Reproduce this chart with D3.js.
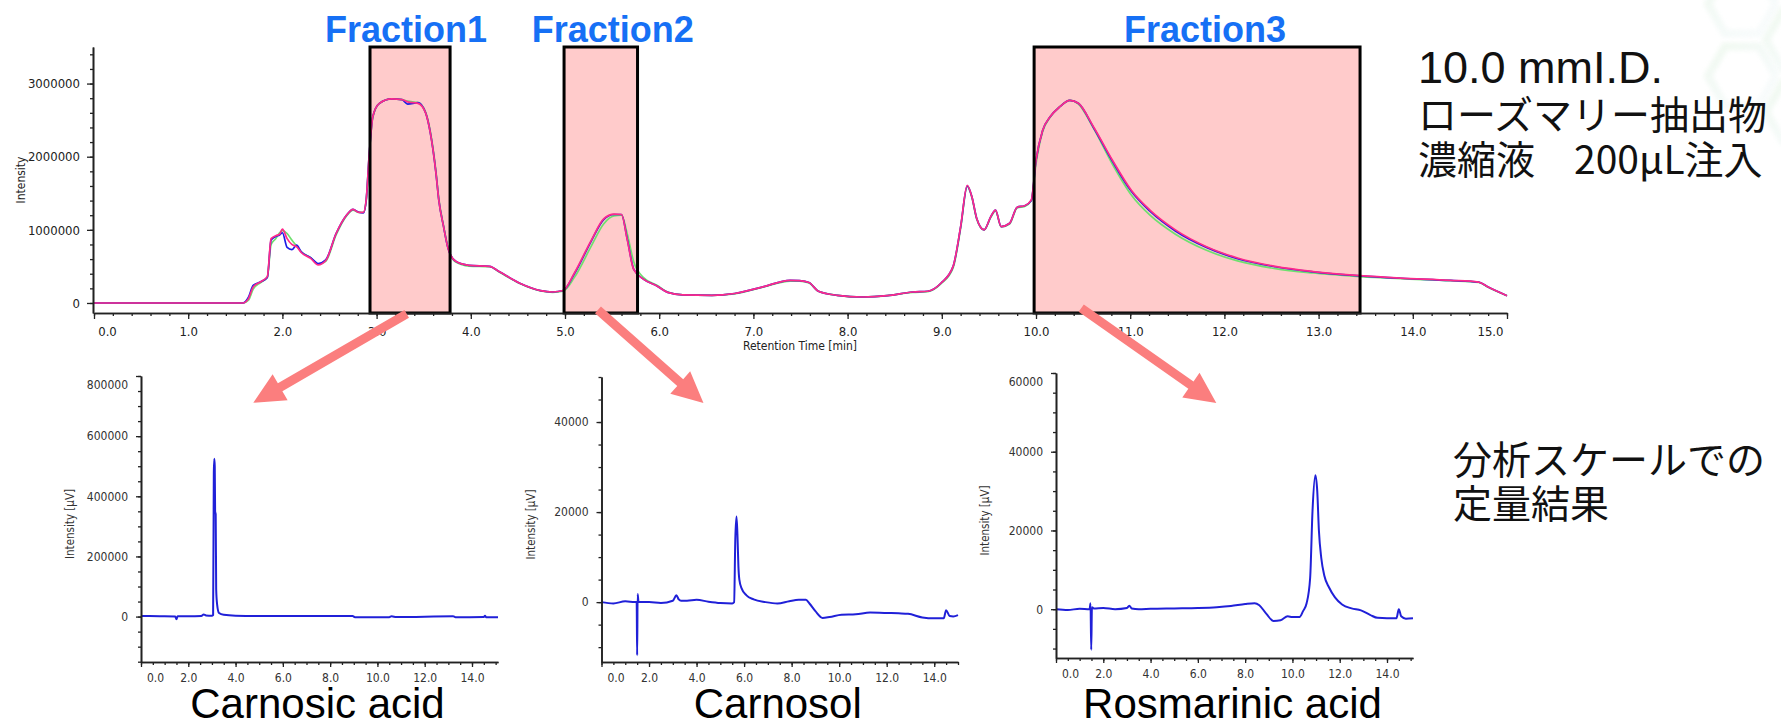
<!DOCTYPE html>
<html>
<head>
<meta charset="utf-8">
<script src="https://cdn.jsdelivr.net/npm/d3@7"></script>
<style>
  body { margin: 0; background: #fff; }
  svg { display: block; }
</style>
</head>
<body>
<div class="content"></div>
<script>
const W = 1781;
const H = 723;

// preparative run: three overlaid injections (time in min, intensity)
const mainTime = [0, 1.58, 1.64, 1.69, 1.77, 1.84, 1.88, 1.93, 1.97, 2.00, 2.05, 2.10, 2.15, 2.20, 2.30, 2.38, 2.46, 2.57, 2.68, 2.75, 2.81, 2.86, 2.89, 2.92, 2.96, 3.03, 3.16, 3.27, 3.33, 3.44, 3.52, 3.57, 3.63, 3.66, 3.71, 3.76, 3.84, 3.98, 4.20, 4.30, 4.52, 4.74, 4.87, 4.98, 5.10, 5.28, 5.41, 5.52, 5.60, 5.66, 5.73, 5.84, 5.98, 6.09, 6.25, 6.56, 6.80, 7.10, 7.39, 7.49, 7.59, 7.69, 7.89, 8.16, 8.42, 8.69, 8.85, 8.99, 9.12, 9.20, 9.27, 9.32, 9.37, 9.45, 9.52, 9.57, 9.63, 9.72, 9.80, 9.88, 9.95, 10.00, 10.07, 10.15, 10.25, 10.36, 10.45, 10.61, 10.81, 11.01, 11.21, 11.48, 11.81, 12.14, 12.54, 12.94, 13.44, 13.87, 14.40, 14.70, 14.80, 15.00];
const mainPink = [0, 0, 60000, 220000, 290000, 360000, 880000, 920000, 940000, 1010000, 880000, 800000, 770000, 690000, 610000, 520000, 580000, 950000, 1200000, 1280000, 1240000, 1240000, 1420000, 2000000, 2550000, 2730000, 2790000, 2780000, 2750000, 2730000, 2600000, 2330000, 1780000, 1410000, 1050000, 740000, 570000, 515000, 500000, 430000, 270000, 170000, 150000, 170000, 410000, 860000, 1150000, 1215000, 1210000, 870000, 455000, 320000, 230000, 145000, 110000, 105000, 130000, 220000, 310000, 305000, 280000, 160000, 105000, 82000, 100000, 150000, 160000, 270000, 500000, 1045000, 1610000, 1450000, 1160000, 1000000, 1180000, 1270000, 1045000, 1090000, 1310000, 1330000, 1410000, 1950000, 2360000, 2545000, 2680000, 2770000, 2730000, 2410000, 1955000, 1545000, 1270000, 1000000, 770000, 615000, 500000, 430000, 373000, 340000, 310000, 286000, 218000, 100000];
const mainBlue = [0, 0, 80000, 240000, 290000, 350000, 860000, 910000, 930000, 960000, 760000, 730000, 790000, 700000, 620000, 540000, 590000, 950000, 1200000, 1280000, 1240000, 1230000, 1410000, 2000000, 2550000, 2730000, 2790000, 2780000, 2720000, 2740000, 2600000, 2330000, 1780000, 1410000, 1050000, 740000, 570000, 515000, 500000, 430000, 270000, 170000, 150000, 170000, 400000, 850000, 1140000, 1210000, 1210000, 880000, 460000, 320000, 230000, 145000, 110000, 105000, 130000, 220000, 310000, 305000, 280000, 160000, 105000, 82000, 100000, 150000, 160000, 270000, 500000, 1040000, 1600000, 1450000, 1160000, 1000000, 1180000, 1270000, 1045000, 1090000, 1310000, 1330000, 1400000, 1950000, 2360000, 2545000, 2680000, 2770000, 2730000, 2400000, 1940000, 1530000, 1255000, 985000, 760000, 605000, 495000, 425000, 370000, 338000, 308000, 285000, 218000, 100000];
const mainGreen = [0, 0, 40000, 190000, 280000, 350000, 800000, 880000, 960000, 990000, 950000, 860000, 780000, 700000, 620000, 530000, 570000, 930000, 1190000, 1270000, 1240000, 1240000, 1400000, 1980000, 2540000, 2730000, 2790000, 2780000, 2760000, 2740000, 2610000, 2350000, 1800000, 1430000, 1060000, 750000, 560000, 505000, 495000, 425000, 265000, 165000, 145000, 160000, 350000, 780000, 1080000, 1190000, 1200000, 950000, 560000, 340000, 240000, 150000, 110000, 105000, 125000, 215000, 300000, 300000, 275000, 160000, 105000, 80000, 100000, 145000, 155000, 260000, 480000, 1020000, 1590000, 1440000, 1150000, 1000000, 1170000, 1260000, 1040000, 1080000, 1300000, 1320000, 1400000, 1900000, 2340000, 2540000, 2680000, 2770000, 2720000, 2390000, 1900000, 1480000, 1200000, 940000, 720000, 575000, 470000, 410000, 360000, 332000, 305000, 282000, 215000, 100000];

const mainXTicks = [0, 1, 2, 3, 4, 5, 6, 7, 8, 9, 10, 11, 12, 13, 14, 15];
const mainYTicks = [0, 1000000, 2000000, 3000000];

const fractionNames = ['Fraction1', 'Fraction2', 'Fraction3'];
const fractionStart = [2.93, 4.99, 9.98];
const fractionEnd = [3.78, 5.77, 13.44];

// analytical-scale chromatograms of each fraction
const carnosicTime = [0, 0.8, 1.45, 1.5, 1.55, 2.0, 2.55, 2.65, 2.75, 3.0, 3.05, 3.08, 3.1, 3.12, 3.135, 3.16, 3.18, 3.22, 3.3, 3.5, 4.0, 5.0, 7.0, 8.95, 9.05, 10.5, 10.6, 10.8, 13.2, 13.3, 14.5, 14.55, 14.6, 15.1];
const carnosicValue = [2000, 1000, 0, -9000, 1000, 1000, 2000, 7000, 4000, 3000, 5000, 480000, 525000, 500000, 350000, 340000, 90000, 40000, 12000, 6000, 3000, 2000, 2000, 2000, -2000, -2000, 1000, -1500, 1000, -2000, -1000, 2500, -2000, -2000];
const carnosicYTicks = [0, 200000, 400000, 600000, 800000];

const carnosolTime = [0, 0.5, 1.0, 1.4, 1.48, 1.5, 1.52, 1.56, 2.0, 2.5, 3.0, 3.15, 3.25, 3.35, 3.6, 4.0, 4.5, 5.0, 5.5, 5.58, 5.63, 5.68, 5.72, 5.76, 5.8, 5.9, 6.1, 6.4, 6.9, 7.4, 7.9, 8.3, 8.6, 8.75, 9.0, 9.3, 9.6, 10.1, 10.7, 11.3, 11.9, 12.5, 12.9, 13.5, 14.0, 14.4, 14.5, 14.65, 14.8, 15.0];
const carnosolValue = [0, -300, 200, 0, 0, -11800, 1800, 0, 0, -200, 300, 1500, 600, 300, 300, 500, 100, -200, -300, 0, 14000, 19000, 15000, 8000, 5000, 3000, 1500, 600, 0, -300, 200, 500, 500, -300, -2000, -3500, -3300, -2800, -2700, -2300, -2400, -2500, -2600, -3400, -3600, -3600, -1800, -3100, -3200, -2900];
const carnosolYTicks = [0, 20000, 40000];

const rosmarinicTime = [0, 0.5, 1.0, 1.42, 1.46, 1.49, 1.52, 1.6, 2.0, 2.5, 3.0, 3.1, 3.2, 3.5, 4.0, 5.0, 6.0, 6.8, 7.4, 8.0, 8.4, 8.6, 8.9, 9.2, 9.5, 9.8, 10.0, 10.3, 10.45, 10.6, 10.75, 10.85, 10.97, 11.05, 11.12, 11.22, 11.35, 11.55, 11.8, 12.1, 12.5, 12.9, 13.3, 13.6, 14.0, 14.4, 14.5, 14.6, 14.8, 15.1];
const rosmarinicValue = [0, -200, 100, 0, 1500, -10300, 500, 200, 300, 0, 300, 900, 200, 0, 100, 200, 300, 500, 800, 1300, 1500, 1000, -1200, -3000, -2800, -1800, -2000, -2000, -500, 1500, 8000, 25000, 34000, 30000, 20000, 13000, 8500, 5500, 3000, 1200, 200, -300, -1500, -2200, -2300, -2300, 0, -1800, -2400, -2300];
const rosmarinicYTicks = [0, 20000, 40000, 60000];

const subXTicks = [0, 2, 4, 6, 8, 10, 12, 14];
const subNames = ['Carnosic acid', 'Carnosol', 'Rosmarinic acid'];

const infoLines = ['10.0 mmI.D.', 'ローズマリー抽出物', '濃縮液\u3000200μL注入'];
const resultLines = ['分析スケールでの', '定量結果'];

const tickFont = '"DejaVu Sans Condensed", "DejaVu Sans", sans-serif';
const fmt1 = d3.format('.1f');

function steps(lo, hi, step) {
	const out = [];
	for (let i = 0; lo + i * step <= hi + 1e-9; i++) out.push(+(lo + i * step).toFixed(6));
	return out;
}

const content = d3.select('.content');
const svg = content.append('svg')
	.attr('width', W)
	.attr('height', H);

// faint hexagon decoration, top right
const defs = svg.append('defs');
const grad = defs.append('linearGradient')
	.attr('id', 'hexfade')
	.attr('x1', 0).attr('y1', 0).attr('x2', 1).attr('y2', 1);
grad.append('stop').attr('offset', '0%').attr('stop-color', '#e8f6e6').attr('stop-opacity', 0.9);
grad.append('stop').attr('offset', '100%').attr('stop-color', '#e4f1f5').attr('stop-opacity', 0.3);
defs.append('filter').attr('id', 'soft')
	.append('feGaussianBlur').attr('stdDeviation', 2);
const hex = d3.line()(d3.range(7).map(i => [Math.cos(Math.PI / 3 * i) * 34, Math.sin(Math.PI / 3 * i) * 34]));
[[1742, 4], [1800, 40], [1742, 76], [1800, 112]].forEach(c => {
	svg.append('path')
		.attr('d', hex)
		.attr('transform', `translate(${c[0]},${c[1]})`)
		.attr('fill', 'none')
		.attr('stroke', 'url(#hexfade)')
		.attr('stroke-width', 8)
		.attr('filter', 'url(#soft)')
		.attr('opacity', 0.7);
});

// ---------- main preparative chromatogram ----------
const mainX = d3.scaleLinear().domain([0, 15]).range([94, 1507]);
const mainY = d3.scaleLinear().domain([-137000, 3500000]).range([313, 47]);

const main = svg.append('g').attr('class', 'main');

main.selectAll('rect.fraction')
	.data(fractionNames)
	.enter()
	.append('rect')
	.attr('class', 'fraction')
	.attr('x', (d, i) => mainX(fractionStart[i]))
	.attr('y', mainY(3500000))
	.attr('width', (d, i) => mainX(fractionEnd[i]) - mainX(fractionStart[i]))
	.attr('height', mainY(-137000) - mainY(3500000))
	.attr('fill', '#ffcbcb');

const mainLine = d3.line()
	.x((d, i) => mainX(mainTime[i]))
	.y(d => mainY(d))
	.curve(d3.curveMonotoneX);

[[mainGreen, '#6fe06f'], [mainBlue, '#1a1ae6'], [mainPink, '#ff2a8a']].forEach(s => {
	main.append('path')
		.attr('d', mainLine(s[0]))
		.attr('fill', 'none')
		.attr('stroke', s[1])
		.attr('stroke-width', 1.7);
});

main.selectAll('rect.frame')
	.data(fractionNames)
	.enter()
	.append('rect')
	.attr('class', 'frame')
	.attr('x', (d, i) => mainX(fractionStart[i]))
	.attr('y', mainY(3500000))
	.attr('width', (d, i) => mainX(fractionEnd[i]) - mainX(fractionStart[i]))
	.attr('height', mainY(-137000) - mainY(3500000))
	.attr('fill', 'none')
	.attr('stroke', '#000')
	.attr('stroke-width', 3);

main.selectAll('text.fraction')
	.data(fractionNames)
	.enter()
	.append('text')
	.attr('class', 'fraction')
	.attr('x', (d, i) => (mainX(fractionStart[i]) + mainX(fractionEnd[i])) / 2 + [-4, 12, 8][i])
	.attr('y', 42)
	.attr('text-anchor', 'middle')
	.attr('font-family', 'Liberation Sans, Arial, sans-serif')
	.attr('font-weight', 'bold')
	.attr('font-size', 36)
	.attr('fill', '#1670f5')
	.text(d => d);

function styleAxis(g, size) {
	g.attr('font-family', tickFont).attr('font-size', size);
	g.selectAll('path.domain').attr('stroke', '#222').attr('stroke-width', 1.6);
	g.selectAll('.tick line').attr('stroke', '#222').attr('stroke-width', 1.3);
	g.selectAll('text').attr('fill', '#222');
}

main.append('g')
	.attr('transform', 'translate(0,313)')
	.call(d3.axisBottom(mainX).tickValues(steps(0, 15, 0.2)).tickSize(3).tickSizeOuter(0).tickFormat(''))
	.call(g => styleAxis(g, 13));

main.append('g')
	.attr('transform', 'translate(0,313)')
	.call(d3.axisBottom(mainX).tickValues(mainXTicks).tickSize(6).tickSizeOuter(0).tickFormat(fmt1))
	.call(g => styleAxis(g, 13))
	.call(g => g.selectAll('text').attr('y', 23).attr('dy', 0)
		.attr('dx', d => d === 0 ? 13 : d === 15 ? -17 : 0));

main.append('g')
	.attr('transform', 'translate(93,0)')
	.call(d3.axisLeft(mainY).tickValues(steps(0, 3400000, 200000)).tickSize(3).tickSizeOuter(0).tickFormat(''))
	.call(g => styleAxis(g, 13));

main.append('g')
	.attr('transform', 'translate(93,0)')
	.call(d3.axisLeft(mainY).tickValues(mainYTicks).tickSize(6).tickSizeOuter(0).tickFormat(d3.format('d')))
	.call(g => styleAxis(g, 13))
	.call(g => g.selectAll('text').attr('x', -13));

main.append('text')
	.attr('transform', 'translate(25,180) rotate(-90)')
	.attr('text-anchor', 'middle')
	.attr('font-family', tickFont)
	.attr('font-size', 12)
	.attr('fill', '#222')
	.text('Intensity');

main.append('text')
	.attr('x', 800)
	.attr('y', 350)
	.attr('text-anchor', 'middle')
	.attr('font-family', tickFont)
	.attr('font-size', 12)
	.attr('fill', '#222')
	.text('Retention Time [min]');

// ---------- right-hand notes ----------
const notes = svg.append('g')
	.attr('font-family', '"Noto Sans CJK JP", "Liberation Sans", sans-serif')
	.attr('fill', '#111');

notes.append('text')
	.attr('x', 1418).attr('y', 83)
	.attr('font-family', 'Liberation Sans, Arial, sans-serif')
	.attr('font-size', 45)
	.text(infoLines[0]);

notes.append('text')
	.attr('x', 1418).attr('y', 129)
	.attr('font-size', 39)
	.text(infoLines[1]);

notes.append('text')
	.attr('x', 1418).attr('y', 174)
	.attr('font-size', 39)
	.text(infoLines[2]);

notes.selectAll('text.result')
	.data(resultLines)
	.enter()
	.append('text')
	.attr('class', 'result')
	.attr('x', 1453)
	.attr('y', (d, i) => 474 + i * 44)
	.attr('font-size', 39)
	.text(d => d);

// ---------- analytical chromatograms ----------
const panels = [
	{ name: subNames[0], t: carnosicTime, v: carnosicValue, ticks: carnosicYTicks, minor: 50000,
		left: 141, right: 498, tMax: 15.1, top: 376, bottom: 662, yMin: -151000, yMax: 800000, labelX: 74 },
	{ name: subNames[1], t: carnosolTime, v: carnosolValue, ticks: carnosolYTicks, minor: 5000,
		left: 601.5, right: 958, tMax: 15.0, top: 377, bottom: 662, yMin: -13300, yMax: 50000, labelX: 535 },
	{ name: subNames[2], t: rosmarinicTime, v: rosmarinicValue, ticks: rosmarinicYTicks, minor: 5000,
		left: 1056, right: 1413, tMax: 15.1, top: 373, bottom: 658, yMin: -12400, yMax: 60000, labelX: 989 }
];

panels.forEach(p => {
	p.x = d3.scaleLinear().domain([0, p.tMax]).range([p.left, p.right]);
	p.y = d3.scaleLinear().domain([p.yMin, p.yMax]).range([p.bottom, p.top]);
	const g = svg.append('g').attr('class', 'panel');

	const line = d3.line()
		.x((d, i) => p.x(p.t[i]))
		.y(d => p.y(d))
		.curve(d3.curveMonotoneX);

	g.append('path')
		.attr('d', line(p.v))
		.attr('fill', 'none')
		.attr('stroke', '#2020d8')
		.attr('stroke-width', 2)
		.attr('stroke-linejoin', 'round');

	g.append('g')
		.attr('transform', `translate(0,${p.bottom})`)
		.call(d3.axisBottom(p.x).tickValues(steps(0, 15, 0.5).filter(v => v <= p.tMax)).tickSize(3).tickSizeOuter(0).tickFormat(''))
		.call(a => styleAxis(a, 12));

	g.append('g')
		.attr('transform', `translate(0,${p.bottom})`)
		.call(d3.axisBottom(p.x).tickValues(subXTicks).tickSize(5).tickSizeOuter(0).tickFormat(fmt1))
		.call(a => styleAxis(a, 12))
		.call(a => a.selectAll('text').attr('y', 20).attr('dy', 0).attr('fill', '#333')
			.attr('dx', d => d === 0 ? 14 : 0));

	const minorY = steps(Math.ceil(p.yMin / p.minor) * p.minor, p.yMax, p.minor);
	g.append('g')
		.attr('transform', `translate(${p.left},0)`)
		.call(d3.axisLeft(p.y).tickValues(minorY).tickSize(3).tickSizeOuter(0).tickFormat(''))
		.call(a => styleAxis(a, 12));

	g.append('g')
		.attr('transform', `translate(${p.left},0)`)
		.call(d3.axisLeft(p.y).tickValues(p.ticks).tickSize(5).tickSizeOuter(0).tickFormat(d3.format('d')))
		.call(a => styleAxis(a, 12))
		.call(a => a.selectAll('text').attr('x', -13).attr('fill', '#333')
			.attr('dy', d => d === p.yMax ? '1em' : '0.32em'));

	g.append('text')
		.attr('transform', `translate(${p.labelX},${(p.top + p.bottom) / 2 + 5}) rotate(-90)`)
		.attr('text-anchor', 'middle')
		.attr('font-family', tickFont)
		.attr('font-size', 11.5)
		.attr('fill', '#333')
		.text('Intensity [μV]');

	g.append('text')
		.attr('x', (p.left + p.right) / 2 - 2)
		.attr('y', 718)
		.attr('text-anchor', 'middle')
		.attr('font-family', 'Liberation Sans, Arial, sans-serif')
		.attr('font-size', 42)
		.attr('fill', '#000')
		.text(p.name);
});

// ---------- arrows from each fraction to its analysis ----------
function arrowPath(x1, y1, x2, y2) {
	const shaft = 4.5, headL = 31, headW = 15;
	const len = Math.hypot(x2 - x1, y2 - y1);
	const ux = (x2 - x1) / len, uy = (y2 - y1) / len;
	const nx = -uy, ny = ux;
	const bx = x2 - ux * headL, by = y2 - uy * headL;
	const pts = [
		[x1 + nx * shaft, y1 + ny * shaft],
		[bx + nx * shaft, by + ny * shaft],
		[bx + nx * headW, by + ny * headW],
		[x2, y2],
		[bx - nx * headW, by - ny * headW],
		[bx - nx * shaft, by - ny * shaft],
		[x1 - nx * shaft, y1 - ny * shaft]
	];
	return d3.line()(pts) + 'Z';
}

const arrowFrom = [[3.32, -150000], [5.35, -95000], [10.48, -70000]];
const arrowTo = [4.75, 4.29, 6.78];
const arrowToValue = [711000, 44200, 52400];

svg.selectAll('path.arrow')
	.data(arrowTo)
	.enter()
	.append('path')
	.attr('class', 'arrow')
	.attr('d', (d, i) => arrowPath(
		mainX(arrowFrom[i][0]), mainY(arrowFrom[i][1]),
		panels[i].x(d), panels[i].y(arrowToValue[i])))
	.attr('fill', '#fb7e7e');
</script>
</body>
</html>
